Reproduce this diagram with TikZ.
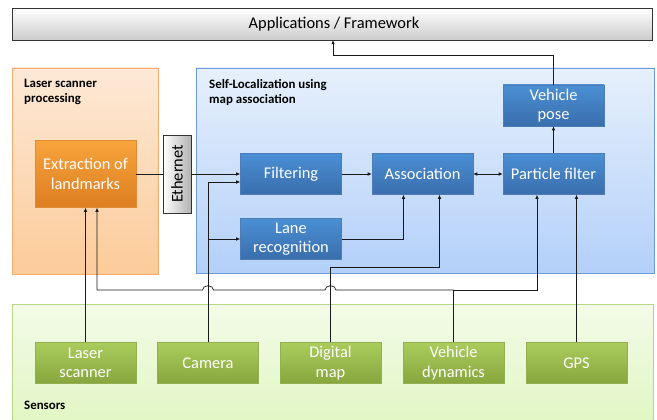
\documentclass[tikz,border=0pt]{standalone}
\usepackage{fontspec}
\setmainfont{Carlito}
\usetikzlibrary{calc, arrows.meta, shadows}

\definecolor{bluetop}{HTML}{4A8FD4}
\definecolor{bluebot}{HTML}{3A6EAD}
\definecolor{orgtop}{HTML}{F8A43C}
\definecolor{orgbot}{HTML}{DC7E22}
\definecolor{grntop}{HTML}{AACC5C}
\definecolor{grnbot}{HTML}{87A63E}

\tikzset{
  box/.style={minimum width=30.3mm, minimum height=12.3mm, align=center, inner sep=1pt,
    text=white, font=\fontsize{14}{16.5}\selectfont,
    drop shadow={opacity=0.25, shadow xshift=0.5pt, shadow yshift=-0.7pt}},
  bluebox/.style={box, top color=bluetop, bottom color=bluebot, draw=bluebot!90!white, line width=0.3pt},
  orgbox/.style={box, top color=orgtop, bottom color=orgbot, draw=orgbot!90!white, line width=0.3pt},
  grnbox/.style={box, top color=grntop, bottom color=grnbot, draw=grnbot!90!white, line width=0.3pt},
  group/.style={line width=0.6pt},
  grouplabel/.style={anchor=north west, align=left, inner sep=0pt, font=\fontsize{11}{13}\selectfont\bfseries},
  link/.style={black!90, line width=0.6pt},
  arr/.style={link, -{Latex[length=3.5pt, width=3pt]}},
}

\begin{document}
\begin{tikzpicture}[x=0.3mm, y=-0.3mm]
    \useasboundingbox (0,0) rectangle (657,419);

    % Group backgrounds
    \shade[top color=white, bottom color=black!20, draw=black!80, group]
        (12,8) rectangle (652,40);
    \shade[top color={rgb,255:red,253;green,233;blue,215}, bottom color={rgb,255:red,252;green,203;blue,153},
        draw={rgb,255:red,244;green,173;blue,108}, group] (12,68) rectangle (158,274);
    \shade[top color={rgb,255:red,230;green,240;blue,252}, bottom color={rgb,255:red,179;green,208;blue,249},
        draw={rgb,255:red,108;green,155;blue,217}, group] (196,68) rectangle (654,273);
    \shade[top color={rgb,255:red,243;green,251;blue,232}, bottom color={rgb,255:red,225;green,246;blue,195},
        draw={rgb,255:red,182;green,213;blue,133}, group] (12,304) rectangle (653,425);

    % Group titles
    \node[font=\fontsize{14}{16}\selectfont] (apps) at (334,24) {Applications / Framework};
    \coordinate (appsbot) at (333,40);
    \node[grouplabel] (lsplabel) at (24,79) {Laser scanner\\processing};
    \node[grouplabel] (sllabel) at (209,79) {Self-Localization using\\map association};
    \node[grouplabel, anchor=west] (senslabel) at (24,405) {Sensors};

    % Processing blocks
    \node[orgbox, minimum height=20.1mm] (extract) at (85.5,174) {Extraction of\\landmarks};
    \node[rotate=90, minimum width=23.4mm, minimum height=8.4mm, draw=black!80, line width=0.5pt,
        left color=white, right color=black!30, font=\fontsize{14}{16}\selectfont] (eth) at (177,174) {Ethernet};
    \node[bluebox] (filter) at (291,174) {Filtering};
    \node[bluebox] (lane) at (291,239) {Lane\\recognition};
    \node[bluebox] (assoc) at (422.5,174) {Association};
    \node[bluebox] (pf) at (553.5,174) {Particle filter};
    \node[bluebox] (pose) at (553.5,105.5) {Vehicle\\pose};

    % Sensors
    \node[grnbox] (laser) at (85.5,363) {Laser\\scanner};
    \node[grnbox] (cam) at (208,363) {Camera};
    \node[grnbox] (map) at (330.5,363) {Digital\\map};
    \node[grnbox] (dyn) at (453.5,363) {Vehicle\\dynamics};
    \node[grnbox] (gps) at (576.5,363) {GPS};

    % Data flow
    \draw[link] (extract.east) -- (eth.north);
    \draw[arr] (eth.south) -- (filter.west);
    \draw[arr] (filter) -- (assoc);
    \draw[arr, {Latex[length=3.5pt, width=3pt]}-{Latex[length=3.5pt, width=3pt]}] (assoc) -- (pf);
    \draw[arr] (pf) -- (pose);
    \draw[arr] (pose.north) -- ++(0,-29) -| (appsbot);
    \draw[arr] (lane.east) -| ($(assoc.south)+(-19,0)$);

    % Sensor inputs
    \draw[arr] (laser.north) -- (laser.north |- extract.south);
    \draw[arr] (cam.north) |- ($(filter.west)+(0,8)$);
    \draw[arr] (cam.north |- lane) -- (lane.west);
    \draw[arr] (map.north) -- ++(0,-75) -| ($(assoc.south)+(17,0)$);
    \draw[arr] (gps.north) -- (gps.north |- pf.south);

    % Vehicle dynamics: to particle filter and (hopping over) to extraction
    \draw[link] (dyn.north) -- (dyn.north |- 0,290) coordinate (hub);
    \draw[arr] (hub) -| ($(pf.south)+(-16.5,0)$);
    \draw[arr] (hub) -- ($(map.north |- hub)+(5.5,0)$)
        arc[start angle=0, end angle=180, x radius=1.65mm, y radius=1.3mm]
        -- ($(cam.north |- hub)+(5.5,0)$)
        arc[start angle=0, end angle=180, x radius=1.65mm, y radius=1.3mm]
        -- ($(extract.south |- hub)+(11.5,0)$) -- ($(extract.south)+(11.5,0)$);
\end{tikzpicture}
\end{document}
